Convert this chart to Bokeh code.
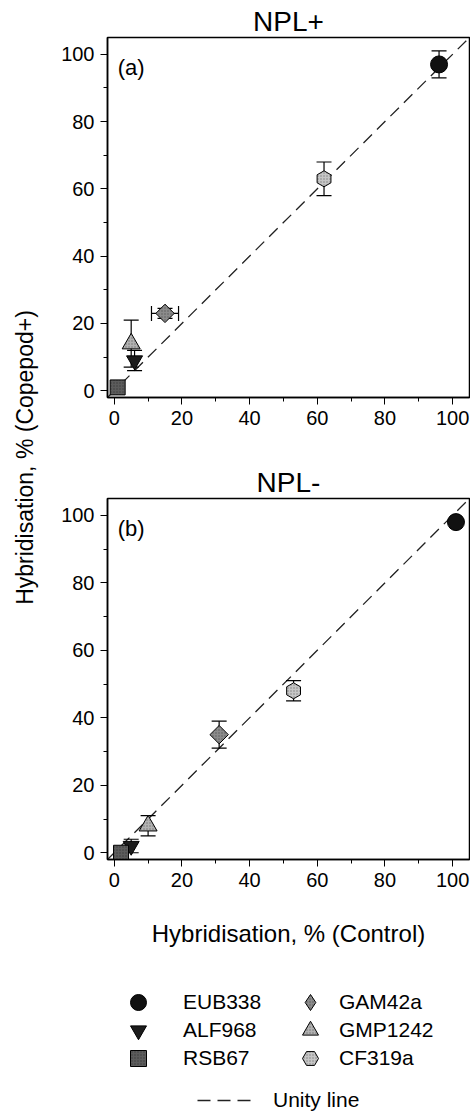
import math
from bokeh.plotting import figure
from bokeh.models import (Range1d, Whisker, TeeHead, Slope, Label, Legend, LegendItem,
                          ColumnDataSource, SingleIntervalTicker)
from bokeh.layouts import column, row
from bokeh.embed import file_html
from bokeh.resources import INLINE

# ---------------- data ----------------
probes = ["EUB338", "ALF968", "RSB67", "GAM42a", "GMP1242", "CF319a"]

# Panel (a) NPL+
a_control = [96, 6, 1, 15, 5, 62]
a_control_err = [0, 0, 0, 4, 0, 0]
a_copepod = [97, 9, 1, 23, 14, 63]
a_copepod_err = [4, 3, 0, 1.5, 7, 5]

# Panel (b) NPL-
b_control = [101, 5, 2, 31, 10, 53]
b_control_err = [0, 0, 0, 0, 0, 0]
b_copepod = [98, 2, 0, 35, 8, 48]
b_copepod_err = [0, 2, 0, 4, 3, 3]

axis_limits = (-2, 105)

# ---------------- styles ----------------
FONT = "Liberation Sans"
markers = ["circle", "inverted_triangle", "square", "square", "triangle", "hex"]
legend_markers = ["circle", "inverted_triangle", "square", "diamond", "triangle", "hex"]
angles = [0, 0, 0, math.pi / 4, 0, math.pi / 2]
fills = ["#111111", "#1c1c1c", "#5c5c5c", "#8c8c8c", "#b2b2b2", "#c6c6c6"]
hatches = [" ", " ", ".", ".", ".", "."]
sizes = [17, 16, 15, 13, 18, 16]
DASH = "12 7"


def style_axes(p):
    p.grid.visible = False
    p.outline_line_color = "black"
    p.outline_line_width = 1.5
    for ax in (p.xaxis[0], p.yaxis[0]):
        ax.ticker = SingleIntervalTicker(interval=20, num_minor_ticks=2)
        ax.major_tick_out = 7
        ax.major_tick_in = 0
        ax.minor_tick_out = 4
        ax.minor_tick_in = 0
        ax.major_tick_line_color = "black"
        ax.minor_tick_line_color = "black"
        ax.axis_line_color = "black"
        ax.axis_line_width = 1.5
        ax.major_label_text_font = FONT
        ax.major_label_text_font_size = "20px"
        ax.major_label_text_color = "black"
        ax.major_label_standoff = 6
        ax.axis_label_text_font = FONT
        ax.axis_label_text_font_style = "normal"
        ax.axis_label_text_font_size = "24px"
        ax.axis_label_text_color = "black"
    p.title.text_font = FONT
    p.title.text_font_size = "28px"
    p.title.text_font_style = "normal"
    p.title.text_color = "black"
    p.title.align = "center"
    p.title.standoff = 2


def panel(title, letter, xs, xerr, ys, yerr, top, bottom, fh, xlabel=None):
    p = figure(title=title, output_backend="svg", toolbar_location=None,
               frame_width=362, frame_height=fh,
               min_border_left=67, min_border_right=1,
               min_border_top=top, min_border_bottom=bottom,
               x_range=Range1d(*axis_limits), y_range=Range1d(*axis_limits))
    style_axes(p)
    if xlabel:
        p.xaxis.axis_label = xlabel
        p.xaxis.axis_label_standoff = 30

    p.add_layout(Slope(gradient=1, y_intercept=0, line_color="#222222",
                       line_width=1.3, line_dash=DASH, level="underlay"))

    # vertical error bars
    vi = [i for i in range(len(probes)) if yerr[i] > 0]
    vsrc = ColumnDataSource(dict(
        base=[xs[i] for i in vi],
        lower=[ys[i] - yerr[i] for i in vi],
        upper=[ys[i] + yerr[i] for i in vi]))
    p.add_layout(Whisker(source=vsrc, base="base", lower="lower", upper="upper",
                         dimension="height", line_color="black", line_width=1.2,
                         upper_head=TeeHead(size=15, line_color="black", line_width=1.2),
                         lower_head=TeeHead(size=15, line_color="black", line_width=1.2),
                         level="underlay"))
    # horizontal error bars
    hi = [i for i in range(len(probes)) if xerr[i] > 0]
    if hi:
        hsrc = ColumnDataSource(dict(
            base=[ys[i] for i in hi],
            lower=[xs[i] - xerr[i] for i in hi],
            upper=[xs[i] + xerr[i] for i in hi]))
        p.add_layout(Whisker(source=hsrc, base="base", lower="lower", upper="upper",
                             dimension="width", line_color="black", line_width=1.2,
                             upper_head=TeeHead(size=15, line_color="black", line_width=1.2),
                             lower_head=TeeHead(size=15, line_color="black", line_width=1.2),
                             level="underlay"))

    src = ColumnDataSource(dict(x=xs, y=ys, marker=markers, angle=angles, fill=fills,
                                hatch=hatches, size=sizes, probe=probes))
    p.scatter("x", "y", source=src, marker="marker", angle="angle", fill_color="fill",
              size="size", hatch_pattern="hatch", hatch_color="#000000",
              hatch_alpha=0.35, hatch_scale=3, hatch_weight=1,
              line_color="black", line_width=1)

    p.add_layout(Label(x=1, y=96, text=letter, text_font=FONT, text_font_size="22px",
                       text_baseline="middle", text_align="left", text_color="black"))
    return p


p1 = panel("NPL+", "(a)", a_control, a_control_err, a_copepod, a_copepod_err,
           top=37, bottom=43, fh=360)
p2 = panel("NPL-", "(b)", b_control, b_control_err, b_copepod, b_copepod_err,
           top=58, bottom=101, fh=361, xlabel="Hybridisation, % (Control)")

# shared y-axis label
lab = figure(output_backend="svg", toolbar_location=None, width=40, height=960,
             x_range=Range1d(0, 40), y_range=Range1d(0, 960),
             x_axis_location=None, y_axis_location=None, min_border=0)
lab.grid.visible = False
lab.outline_line_color = None
lab.add_layout(Label(x=24, y=503, text="Hybridisation, % (Copepod+)", angle=math.pi / 2,
                     text_align="center", text_baseline="middle", text_font=FONT,
                     text_font_size="23px", text_color="black"))

# legend area
leg = figure(output_backend="svg", toolbar_location=None, width=470, height=152,
             x_range=Range1d(0, 470), y_range=Range1d(0, 152),
             x_axis_location=None, y_axis_location=None, min_border=0)
leg.grid.visible = False
leg.outline_line_color = None

NAN = float("nan")
positions = [(118, 90, 25), (118, 62, 25), (118, 34, 25),
             (290, 90, 9), (290, 62, 9), (290, 34, 9)]
for i, name in enumerate(probes):
    r = leg.scatter(x=[NAN], y=[NAN], marker=legend_markers[i],
                    fill_color=fills[i], hatch_pattern=hatches[i], hatch_color="#000000",
                    hatch_alpha=0.35, hatch_scale=3, hatch_weight=1,
                    line_color="black", line_width=1, size=sizes[i])
    lx, ly, st = positions[i]
    lg = Legend(items=[LegendItem(label=name, renderers=[r])], location=(lx, ly),
                glyph_width=40, glyph_height=40, label_height=40, label_standoff=st,
                padding=0, margin=0, spacing=0, border_line_color=None,
                background_fill_alpha=0, label_text_font=FONT,
                label_text_font_size="21px", label_text_color="black")
    leg.add_layout(lg)

rl = leg.line(x=[NAN, NAN], y=[NAN, NAN], line_color="#222222", line_width=1.3,
              line_dash="13 7")
leg.add_layout(Legend(items=[LegendItem(label="Unity line", renderers=[rl])],
                      location=(197, 0), glyph_width=55, glyph_height=24,
                      label_height=24, label_standoff=21, padding=0, margin=0,
                      spacing=0, border_line_color=None, background_fill_alpha=0,
                      label_text_font=FONT, label_text_font_size="21px",
                      label_text_color="black"))

layout = column(row(lab, column(p1, p2)), leg)

open("out.html", "w").write(file_html(layout, INLINE))
